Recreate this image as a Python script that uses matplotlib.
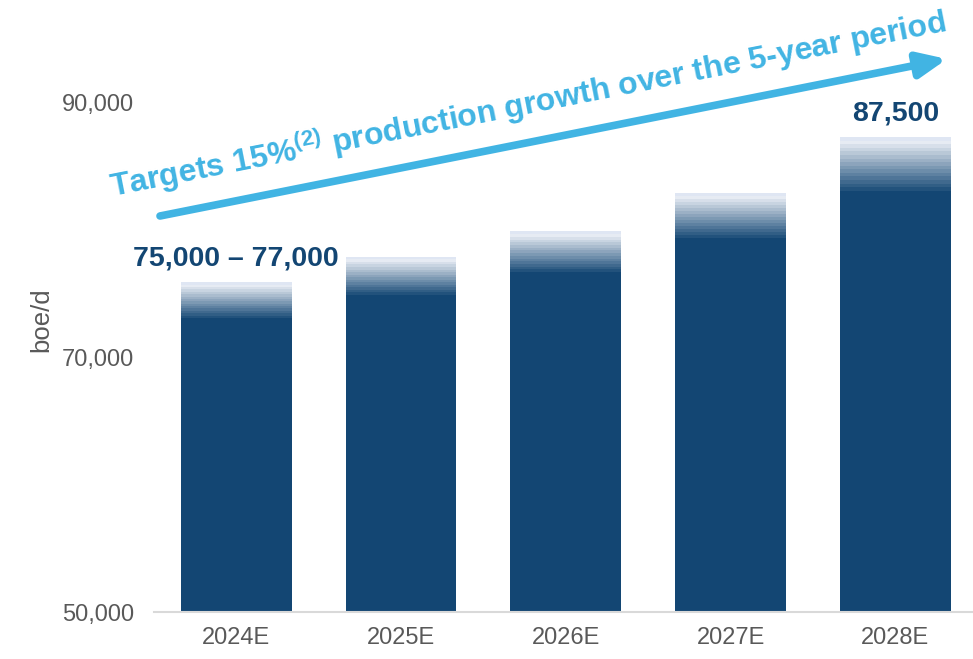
import numpy as np
import matplotlib
matplotlib.use("Agg")
import matplotlib.pyplot as plt
from matplotlib.colors import to_rgb

plt.rcParams['font.family'] = ['Liberation Sans', 'DejaVu Sans']
plt.rcParams['mathtext.fontset'] = 'custom'
plt.rcParams['mathtext.rm'] = 'Liberation Sans'
plt.rcParams['mathtext.bf'] = 'Liberation Sans:bold'

# dados (boe/d)
categorias = ["2024E", "2025E", "2026E", "2027E", "2028E"]
base_solida = [73100, 74900, 76700, 79400, 83100]   # topo da parte sólida
topo_faixa = [75900, 77900, 79900, 82900, 87300]    # topo do degradê
rotulos = {0: "75,000 \u2013 77,000", 4: "87,500"}
yticks = [50000, 70000, 90000]
titulo = r"Targets 15%$^{\mathbf{(2)}}$ production growth over the 5-year period"

AZUL = "#134673"
CIANO = "#41B4E3"
CINZA = "#595959"

fig = plt.figure(figsize=(9.73, 6.59), dpi=100)
ax = fig.add_axes([0.158, 0.0713, 0.847, 0.8886])

x = np.arange(len(categorias))
largura = 0.673
y0 = 50000

# parte sólida
ax.bar(x, np.array(base_solida) - y0, bottom=y0, width=largura, color=AZUL, zorder=2)

# degradê em faixas (escuro embaixo -> claro em cima)
n = 15
c_esc = np.array(to_rgb(AZUL))
c_clr = np.array(to_rgb("#f5f7fc"))
h = (np.array(topo_faixa) - np.array(base_solida)) / n
for j in range(n):
    t = (j + 1) / n
    cor = c_esc * (1 - t) + c_clr * t
    if j == n - 1:
        cor = to_rgb("#dfe6f3")
    ax.bar(x, h, bottom=np.array(base_solida) + j * h, width=largura,
           color=cor, zorder=2, linewidth=0)

for i, txt in rotulos.items():
    ax.annotate(txt, (x[i], topo_faixa[i]), xytext=(0, 8), textcoords="offset points",
                ha="center", va="bottom", fontsize=20.5, fontweight="bold", color=AZUL)

ax.set_xlim(-0.5, 4.5)
ax.set_ylim(50000, 96000)
ax.set_xticks(x)
ax.set_xticklabels(categorias)
ax.set_yticks(yticks)
ax.set_yticklabels([f"{v:,}" for v in yticks])
ax.tick_params(axis="both", length=0, labelsize=17, labelcolor=CINZA)
ax.tick_params(axis="y", pad=14)
ax.tick_params(axis="x", pad=11)
ax.set_ylabel("boe/d", fontsize=18.5, color=CINZA, labelpad=6)
for s in ["top", "right", "left"]:
    ax.spines[s].set_visible(False)
ax.spines["bottom"].set_color("#d9d9d9")
ax.spines["bottom"].set_linewidth(1.5)

# seta de crescimento
ax.annotate("", xy=(947, 659 - 59), xytext=(160, 659 - 216),
            xycoords="figure pixels", textcoords="figure pixels",
            arrowprops=dict(arrowstyle="-|>,head_length=1.7,head_width=0.75",
                            color=CIANO, lw=5.5, shrinkA=0, shrinkB=0))
fig.text(528 / 973, 1 - 104 / 659, titulo, rotation=11.2, rotation_mode="anchor",
         ha="center", va="center", fontsize=23, fontweight="bold", color=CIANO)

fig.savefig("out.png", dpi=100)
